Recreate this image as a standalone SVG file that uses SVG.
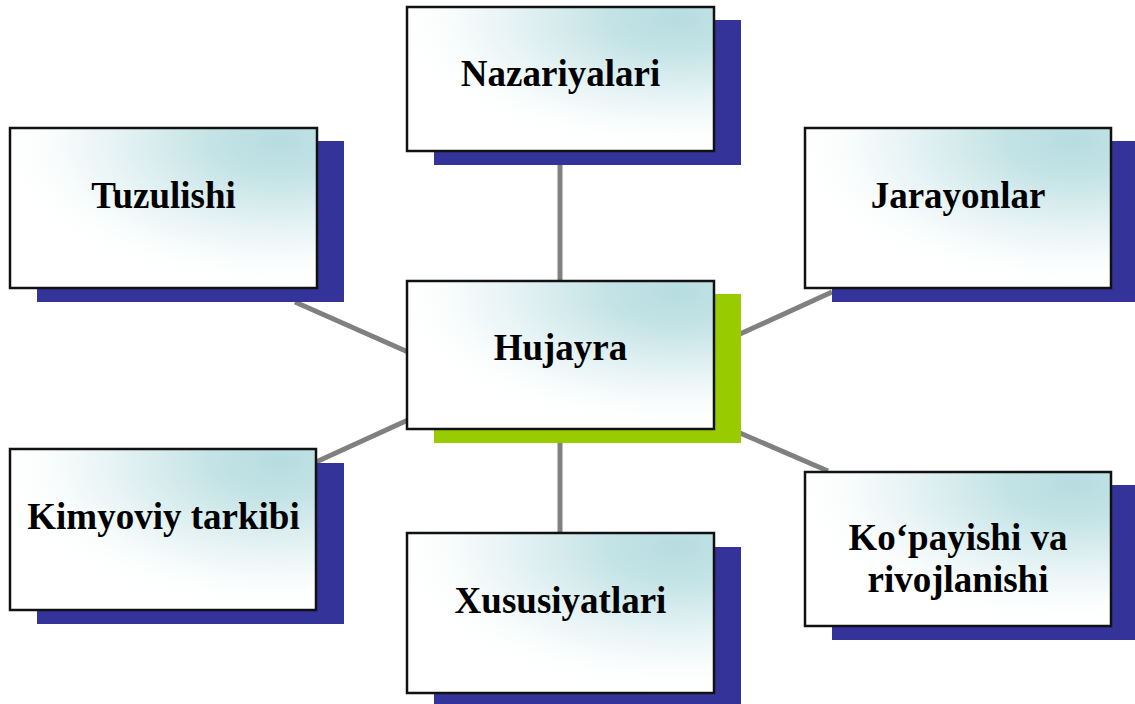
<svg xmlns="http://www.w3.org/2000/svg" width="1135" height="704" viewBox="0 0 1135 704">
  <defs>
    <radialGradient id="fill" cx="0.88" cy="0.08" r="0.9" fx="0.88" fy="0.08">
      <stop offset="0" stop-color="#b6dde0"/>
      <stop offset="0.25" stop-color="#c4e3e6"/>
      <stop offset="0.6" stop-color="#e6f3f4"/>
      <stop offset="0.85" stop-color="#fbfdfd"/>
      <stop offset="1" stop-color="#ffffff"/>
    </radialGradient>
    <style>
      .shadow { fill: #333399; }
      .shadow-c { fill: #99cc00; }
      .box { fill: url(#fill); stroke: #111111; stroke-width: 2.5; }
      .label { font-family: "Liberation Serif", "Times New Roman", serif; font-weight: bold; font-size: 37px; fill: #000000; text-anchor: middle; }
      .conn { stroke: #808080; stroke-width: 5; fill: none; }
    </style>
  </defs>
  <rect width="1135" height="704" fill="#ffffff"/>

  <g id="connectors">
    <line class="conn" x1="560" y1="150" x2="560" y2="282"/>
    <line class="conn" x1="560" y1="428" x2="560" y2="534"/>
    <line class="conn" x1="295" y1="302" x2="408" y2="352"/>
    <line class="conn" x1="316" y1="462" x2="408" y2="420"/>
    <line class="conn" x1="740" y1="334" x2="832" y2="292"/>
    <line class="conn" x1="740" y1="433" x2="828" y2="471"/>
  </g>

  <g id="node-nazariyalari">
    <rect class="shadow" x="434" y="20" width="307" height="145"/>
    <rect class="box" x="407" y="7" width="307" height="144"/>
    <text class="label" x="560.5" y="86">Nazariyalari</text>
  </g>

  <g id="node-tuzulishi">
    <rect class="shadow" x="37" y="141" width="307" height="161"/>
    <rect class="box" x="10" y="128" width="307" height="160"/>
    <text class="label" x="163.5" y="208">Tuzulishi</text>
  </g>

  <g id="node-jarayonlar">
    <rect class="shadow" x="832" y="141" width="307" height="161"/>
    <rect class="box" x="805" y="128" width="306" height="160"/>
    <text class="label" x="958" y="208">Jarayonlar</text>
  </g>

  <g id="node-hujayra">
    <rect class="shadow-c" x="434" y="294" width="307" height="149"/>
    <rect class="box" x="407" y="281" width="307" height="148"/>
    <text class="label" x="560.5" y="360">Hujayra</text>
  </g>

  <g id="node-kimyoviy">
    <rect class="shadow" x="37" y="463" width="307" height="161"/>
    <rect class="box" x="10" y="449" width="306" height="161"/>
    <text class="label" x="163.5" y="529">Kimyoviy tarkibi</text>
  </g>

  <g id="node-xususiyatlari">
    <rect class="shadow" x="434" y="547" width="307" height="160"/>
    <rect class="box" x="407" y="533" width="307" height="160"/>
    <text class="label" x="560.5" y="613">Xususiyatlari</text>
  </g>

  <g id="node-kopayishi">
    <rect class="shadow" x="832" y="485" width="307" height="155"/>
    <rect class="box" x="805" y="472" width="306" height="154"/>
    <text class="label" x="958" y="550">Ko‘payishi va</text>
    <text class="label" x="958" y="592">rivojlanishi</text>
  </g>
</svg>
